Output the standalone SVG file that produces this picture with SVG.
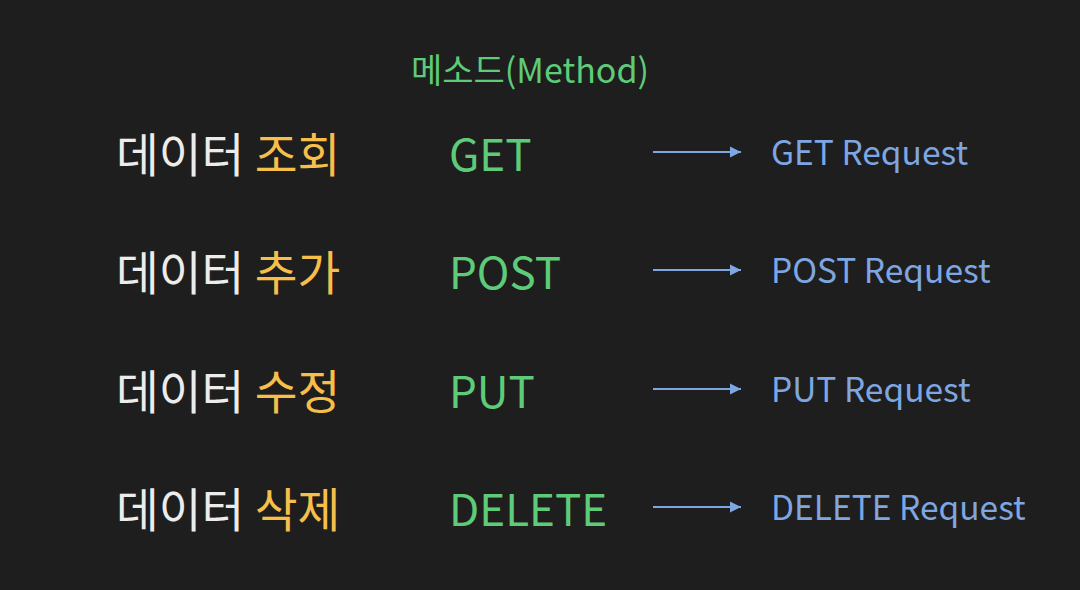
<svg xmlns="http://www.w3.org/2000/svg" width="1080" height="590" viewBox="0 0 1080 590">
<defs>
<style>
.t{font-family:"Noto Sans CJK KR","Noto Sans",sans-serif}
.k{font-size:46.5px;fill:#ececec}
.o{fill:#f6bf4a}
.m{font-size:44px;fill:#5ecb78}
.r{font-size:33.5px;fill:#7ea6e0}
.ttl{font-size:34px;fill:#5ecb78}
.c{stroke:#7ea6e0;stroke-width:2.2;fill:none;marker-end:url(#ah)}
</style>
<marker id="ah" viewBox="0 0 10 10" refX="10" refY="5" markerWidth="5.2" markerHeight="5.2" orient="auto" markerUnits="strokeWidth">
<path d="M0,0 L10,5 L0,10 z" fill="#7ea6e0"/>
</marker>
</defs>
<rect width="1080" height="590" fill="#1e1e1e"/>
<text id="title" class="t ttl" x="411" y="83">메소드(Method)</text>
<g id="row-get">
<text class="t k" x="116" y="172">데이터 <tspan class="o">조회</tspan></text>
<text class="t m" x="449" y="171">GET</text>
<text class="t r" x="771" y="165">GET Request</text>
</g>
<g id="row-post">
<text class="t k" x="116" y="290">데이터 <tspan class="o">추가</tspan></text>
<text class="t m" x="449" y="289">POST</text>
<text class="t r" x="771" y="283">POST Request</text>
</g>
<g id="row-put">
<text class="t k" x="116" y="409">데이터 <tspan class="o">수정</tspan></text>
<text class="t m" x="449" y="408">PUT</text>
<text class="t r" x="771" y="402">PUT Request</text>
</g>
<g id="row-delete">
<text class="t k" x="116" y="527">데이터 <tspan class="o">삭제</tspan></text>
<text class="t m" x="449" y="526">DELETE</text>
<text class="t r" x="771" y="520">DELETE Request</text>
</g>
<g id="connectors">
<path class="c" d="M653,152 H741"/>
<path class="c" d="M653,270 H741"/>
<path class="c" d="M653,389 H741"/>
<path class="c" d="M653,507 H741"/>
</g>
</svg>
